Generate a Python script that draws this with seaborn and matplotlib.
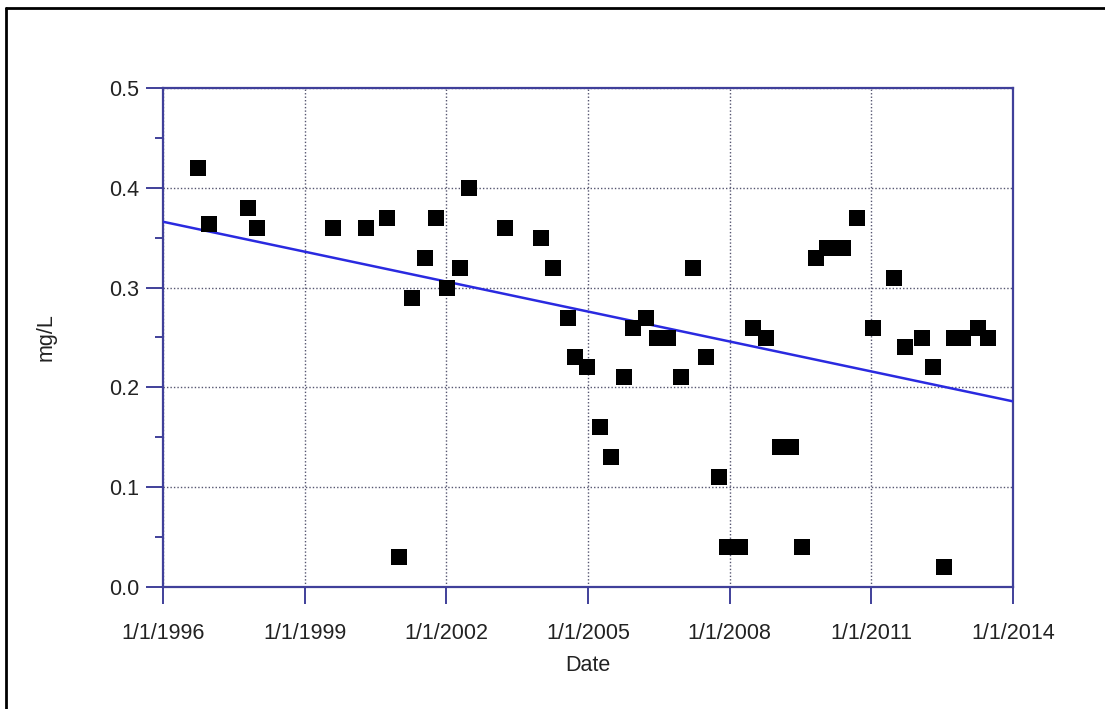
import matplotlib
matplotlib.use("Agg")
import matplotlib.pyplot as plt
import matplotlib.dates as mdates
from matplotlib.ticker import FuncFormatter, MultipleLocator
from matplotlib.lines import Line2D
import seaborn as sns
import pandas as pd

# Sample dates and measured concentrations (mg/L)
sample_dates = [
    "1996-09-27", "1996-12-20", "1997-10-20", "1997-12-28", "1999-08-07",
    "2000-04-20", "2000-09-27", "2000-12-27", "2001-04-09", "2001-07-19",
    "2001-10-12", "2002-01-05", "2002-04-16", "2002-06-25", "2003-03-30",
    "2004-01-01", "2004-04-05", "2004-07-31", "2004-09-24", "2004-12-24",
    "2005-04-02", "2005-06-28", "2005-10-05", "2005-12-14", "2006-03-25",
    "2006-06-18", "2006-09-10", "2006-12-20", "2007-03-22", "2007-07-02",
    "2007-10-08", "2007-12-10", "2008-03-22", "2008-06-28", "2008-10-08",
    "2009-01-26", "2009-04-20", "2009-07-13", "2009-10-30", "2010-01-23",
    "2010-05-27", "2010-09-13", "2011-01-15", "2011-06-25", "2011-09-17",
    "2012-01-26", "2012-04-23", "2012-07-16", "2012-10-01", "2012-12-10",
    "2013-04-06", "2013-06-21",
]
concentrations = [
    0.42, 0.364, 0.38, 0.36, 0.36,
    0.36, 0.37, 0.03, 0.29, 0.33,
    0.37, 0.30, 0.32, 0.40, 0.36,
    0.35, 0.32, 0.27, 0.23, 0.22,
    0.16, 0.13, 0.21, 0.26, 0.27,
    0.25, 0.25, 0.21, 0.32, 0.23,
    0.11, 0.04, 0.04, 0.26, 0.25,
    0.14, 0.14, 0.04, 0.33, 0.34,
    0.34, 0.37, 0.26, 0.31, 0.24,
    0.25, 0.22, 0.02, 0.25, 0.25,
    0.26, 0.25,
]

# Linear trend endpoints
trend_dates = ["1996-01-01", "2014-01-01"]
trend_values = [0.366, 0.186]

tick_years = [1996, 1999, 2002, 2005, 2008, 2011, 2014]
y_ticks = [0.0, 0.1, 0.2, 0.3, 0.4, 0.5]

samples = pd.DataFrame({"Date": pd.to_datetime(sample_dates), "mg/L": concentrations})
trend = pd.DataFrame({"Date": pd.to_datetime(trend_dates), "mg/L": trend_values})

sns.set_theme(style="white")
plt.rcParams["font.family"] = ["Liberation Sans", "DejaVu Sans"]

axis_blue = "#40409a"
text_color = "#222222"
fig = plt.figure(figsize=(11.05, 7.09), dpi=100)
ax = fig.add_axes([163 / 1105, 1 - 587 / 709, 850 / 1105, 499 / 709])

sns.lineplot(data=trend, x="Date", y="mg/L", ax=ax, color="#2a2ae0", lw=1.8, zorder=3)
sns.scatterplot(data=samples, x="Date", y="mg/L", ax=ax, marker="s", s=140,
                color="black", edgecolor="black", linewidth=0, zorder=4)

ax.set_xlim(pd.Timestamp("1996-01-01"), pd.Timestamp("2014-01-01"))
ax.set_ylim(0, 0.5)
ax.set_xticks([pd.Timestamp(f"{y}-01-01") for y in tick_years])
ax.xaxis.set_major_formatter(FuncFormatter(
    lambda v, pos: (lambda d: f"{d.month}/{d.day}/{d.year}")(mdates.num2date(v))))
ax.set_yticks(y_ticks)
ax.yaxis.set_major_formatter(FuncFormatter(lambda v, pos: f"{v:.1f}"))
ax.yaxis.set_minor_locator(MultipleLocator(0.05))

ax.grid(True, which="major", linestyle=(0, (1, 1.5)), color="#555570", linewidth=1.0)
for side in ["left", "right", "top", "bottom"]:
    ax.spines[side].set_visible(True)
    ax.spines[side].set_color(axis_blue)
    ax.spines[side].set_linewidth(1.6)

ax.tick_params(axis="both", which="major", direction="out", length=12, width=1.4,
               color=axis_blue, labelsize=15.5, labelcolor=text_color,
               bottom=True, left=True)
ax.tick_params(axis="x", which="major", pad=14)
ax.tick_params(axis="y", which="major", pad=5)
ax.tick_params(axis="y", which="minor", direction="out", length=6, width=1.4,
               color=axis_blue, left=True)

ax.set_xlabel("Date", fontsize=15.5, color=text_color, labelpad=8)
ax.set_ylabel("mg/L", fontsize=15.5, color=text_color, labelpad=38)

# Outer frame edges (left and top)
fig.add_artist(Line2D([6 / 1105, 6 / 1105], [0, 1 - 8 / 709],
                      transform=fig.transFigure, color="black", lw=2))
fig.add_artist(Line2D([6 / 1105, 1], [1 - 8 / 709, 1 - 8 / 709],
                      transform=fig.transFigure, color="black", lw=2))

fig.savefig("out.png", dpi=100, facecolor="white")
